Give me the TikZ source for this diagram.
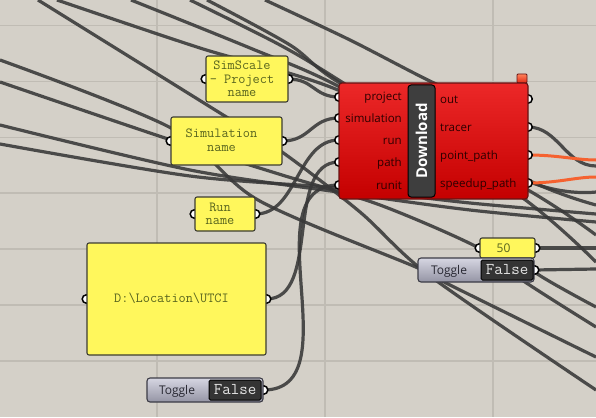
\documentclass[tikz,border=0pt]{standalone}
\usepackage{fontspec}
\newfontfamily\ghsans{Open Sans}
\usetikzlibrary{positioning,backgrounds}
\pgfdeclarelayer{canvas}
\pgfdeclarelayer{wires}
\pgfsetlayers{canvas,wires,main}
\definecolor{canvasgrey}{RGB}{212,208,200}
\definecolor{gridgrey}{RGB}{192,188,180}
\definecolor{panelfill}{RGB}{255,247,92}
\definecolor{panelrim}{RGB}{60,60,50}
\definecolor{paneltext}{RGB}{88,100,30}
\definecolor{comptop}{RGB}{236,40,40}
\definecolor{compbot}{RGB}{196,0,0}
\definecolor{comprim}{RGB}{100,20,20}
\definecolor{lbltext}{RGB}{45,0,0}
\definecolor{capfill}{RGB}{62,62,62}
\definecolor{togtop}{RGB}{214,214,226}
\definecolor{togbot}{RGB}{148,148,164}
\definecolor{togrim}{RGB}{60,60,70}
\definecolor{togtxt}{RGB}{40,40,50}
\definecolor{falsefill}{RGB}{52,52,52}
\definecolor{falsetxt}{RGB}{228,228,228}
\definecolor{wiregrey}{RGB}{56,56,56}
\definecolor{hot}{RGB}{245,98,48}
\definecolor{flagtop}{RGB}{255,130,90}
\definecolor{flagbot}{RGB}{225,40,20}

\begin{document}
\begin{tikzpicture}[x=1pt,y=-1pt,
  panel/.style={draw=panelrim,fill=panelfill,rounded corners=2pt,line width=1.1pt,inner sep=0pt},
  ptext/.style={text=paneltext,font=\fontsize{13.9}{13.5}\selectfont\ttfamily,align=center,inner sep=0pt},
  numtext/.style={text=paneltext,font=\ghsans\fontsize{12}{12}\selectfont,inner sep=0pt},
  comp/.style={draw=comprim,top color=comptop,bottom color=compbot,rounded corners=3pt,line width=1.1pt},
  capsule/.style={draw=black,fill=capfill,rounded corners=3pt,line width=1pt,text=white,font=\ghsans\bfseries\fontsize{15}{15}\selectfont,inner sep=0pt},
  inlbl/.style={anchor=base east,inner sep=0pt,text=lbltext,font=\ghsans\fontsize{11.5}{12}\selectfont},
  outlbl/.style={inlbl,anchor=base west},
  togbody/.style={draw=togrim,top color=togtop,bottom color=togbot,rounded corners=3pt,line width=1.1pt},
  togtext/.style={text=togtxt,font=\ghsans\fontsize{12}{12}\selectfont,inner sep=0pt},
  falsebox/.style={draw=black,fill=falsefill,rounded corners=1.5pt,line width=1pt,text=falsetxt,font=\fontsize{16.5}{16}\selectfont\ttfamily,inner sep=0pt},
  flag/.style={draw=comprim,top color=flagtop,bottom color=flagbot,rounded corners=1pt,line width=.8pt,minimum width=10pt,minimum height=9pt,inner sep=0pt},
  port/.style={circle,draw=black,fill=white,line width=1.5pt,minimum size=8.5pt,inner sep=0pt},
  wire/.style={draw=wiregrey,line width=3.2pt,opacity=.88},
  hotwire/.style={draw=hot,line width=3pt},
  gridrule/.style={draw=gridgrey,line width=1.3pt}]
  \useasboundingbox (0,0) rectangle (596,417);

  \node[panel,minimum width=82pt,minimum height=46pt] (simscale) at (247,79) {};
  \node[ptext] (simscale-txt) at (242,79) {SimScale\\- Project\\name};
  \node[panel,minimum width=111pt,minimum height=48pt] (simname) at (226.5,141) {};
  \node[ptext] (simname-txt) at (221.5,140) {Simulation\\name};
  \node[panel,minimum width=60pt,minimum height=34pt] (runname) at (225,214) {};
  \node[ptext] (runname-txt) at (220,214) {Run\\name};
  \node[panel,minimum width=179pt,minimum height=112pt] (locpath) at (176.5,299) {};
  \node[ptext] (locpath-txt) at (171.5,298) {D:\textbackslash Location\textbackslash UTCI};

  \node[togbody,minimum width=116pt,minimum height=24pt] (togA) at (205,390) {};
  \node[togtext] (togA-txt) at (177,391) {Toggle};
  \node[falsebox,minimum width=52pt,minimum height=20pt] (togA-val) at (235,390) {False};

  \node[flag] (dl-flag) at (522,78.5) {};
  \node[comp,minimum width=189pt,minimum height=116pt] (dl) at (433.5,141) {};
  \node[capsule,minimum width=112pt,minimum height=27pt,rotate=90] (dl-cap) at (421.5,141) {Download};
  \foreach \n/\y in {project/97,simulation/118,run/140,path/162,runit/185}{
    \coordinate (dl-\n) at (339,\y);
    \node[inlbl] (dl-\n-lbl) at (402,\y+4) {\n};
  }
  \foreach \n/\t/\y in {out/out/99,tracer/tracer/127,point/point\_path/155,speedup/speedup\_path/183}{
    \coordinate (dl-\n) at (528,\y);
    \node[outlbl] (dl-\n-lbl) at (440,\y+4) {\t};
  }

  \node[panel,minimum width=55pt,minimum height=20pt] (num) at (507.5,248) {};
  \node[numtext] (num-txt) at (503.5,248) {50};
  \node[togbody,minimum width=116pt,minimum height=24pt] (togB) at (476,270) {};
  \node[togtext] (togB-txt) at (449,271) {Toggle};
  \node[falsebox,minimum width=52pt,minimum height=20pt] (togB-val) at (507,270) {False};

  \coordinate (tracer-end) at (596,166);
  \coordinate (point-end) at (596,160);
  \coordinate (speedup-end) at (596,177);
  \coordinate (num-end) at (596,248);
  \coordinate (togB-end) at (596,269);

  \begin{pgfonlayer}{wires}
    \draw[wire] plot[smooth,tension=.5] coordinates {(38,0) (220,113) (282,152) (360,212) (430,276) (596,390)};
    \draw[wire] plot[smooth,tension=.5] coordinates {(0,60) (171,128) (258,200) (418,268) (450,285) (596,357)};
    \draw[wire] plot[smooth,tension=.5] coordinates {(0,82) (171,140) (282,175) (380,205) (479,248) (525,282) (596,327)};
    \draw[wire] plot[smooth,tension=.5] coordinates {(0,125) (190,170) (338,192) (470,210) (596,222)};
    \draw[wire] plot[smooth,tension=.5] coordinates {(0,144) (190,176) (338,188) (470,203) (596,214)};
    \draw[wire] plot[smooth,tension=.5] coordinates {(57,0) (200,48) (338,90) (530,182) (596,192)};
    \draw[wire] plot[smooth,tension=.5] coordinates {(131,0) (250,48) (338,86) (528,190) (596,235)};
    \draw[wire] plot[smooth,tension=.5] coordinates {(190,0) (280,45) (345,84) (520,196) (596,262)};
    \draw[wire] plot[smooth,tension=.5] coordinates {(207,0) (290,45) (345,86) (528,180) (596,205)};
    \draw[wire] plot[smooth,tension=.5] coordinates {(265,0) (350,40) (434,83) (480,100)};
    \draw[wire] plot[smooth,tension=.5] coordinates {(500,240) (536,273) (596,307)};

    \draw[wire] (simscale.east) .. controls +(25,0) and +(-25,0) .. (dl-project);
    \draw[wire] (simname.east) .. controls +(28,0) and +(-28,0) .. (dl-simulation);
    \draw[wire] (runname.east) .. controls +(42,0) and +(-42,0) .. (dl-run);
    \draw[wire] (locpath.east) .. controls +(55,0) and +(-55,0) .. (dl-path);
    \draw[wire] (togA.east) .. controls +(90,0) and +(-90,0) .. (dl-runit);
    \draw[wire] (dl-tracer) .. controls +(30,0) and +(-30,0) .. (tracer-end);
    \draw[wire] (num.east) -- (num-end);
    \draw[wire] (togB.east) -- (togB-end);
    \draw[hotwire] (dl-point) .. controls +(30,0) and +(-20,0) .. (point-end);
    \draw[hotwire] (dl-speedup) .. controls +(30,0) and +(-20,0) .. (speedup-end);

    \foreach \p [count=\i] in {simscale.west,simscale.east,simname.west,simname.east,runname.west,runname.east,locpath.west,locpath.east,togA.east,num.west,num.east,togB.east,dl-project,dl-simulation,dl-run,dl-path,dl-runit,dl-out,dl-tracer,dl-point,dl-speedup}
      \node[port] (port\i) at (\p) {};
  \end{pgfonlayer}

  \begin{pgfonlayer}{canvas}
    \fill[canvasgrey] (0,0) rectangle (596,417);
    \foreach \gx in {157,325,493}
      \draw[gridrule] (\gx,0) -- (\gx,417);
    \foreach \gy in {25.5,81.5,137.5,193,249,305,361}
      \draw[gridrule] (0,\gy) -- (596,\gy);
  \end{pgfonlayer}
\end{tikzpicture}
\end{document}
